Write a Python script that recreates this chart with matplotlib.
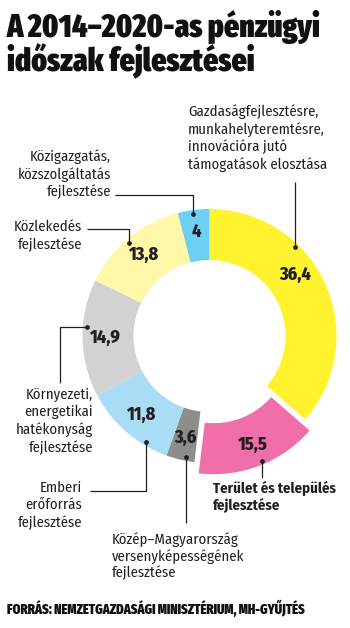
import matplotlib

matplotlib.use("Agg")

import numpy as np  # noqa: E402
import matplotlib.pyplot as plt  # noqa: E402

# értékek (%), az óramutató járásával egyező sorrendben, felülről indulva
values = [36.4, 15.5, 3.6, 11.8, 14.9, 13.8, 4]
value_labels = ["36,4", "15,5", "3,6", "11,8", "14,9", "13,8", "4"]
colors = ["#fff22e", "#f06fab", "#8d8d8d", "#a9ddf6", "#d2d2d2", "#fff8a8", "#6ecff4"]

W, H = 350, 628
CX, CY = 209.5, 336.0
R_OUT, RING = 127.0, 51.0
EXPLODE = [0, 12, 0, 0, 0, 0, 0]

_HEAVY = ["Fira Sans Extra Condensed", "DejaVu Sans"]
_COND = ["Fira Sans Condensed", "DejaVu Sans"]
_INK = "#231f20"

fig = plt.figure(figsize=(W / 100, H / 100), dpi=100)
ax = fig.add_axes([0, 0, 1, 1])

# képpont-koordináták, y lefelé nő -> a pie szögei tükröződnek
wedges, _ = ax.pie(
    values,
    colors=colors,
    startangle=-90,
    counterclock=True,
    radius=R_OUT,
    center=(CX, CY),
    explode=EXPLODE,
    wedgeprops=dict(width=RING, linewidth=0),
)
ax.set_xlim(0, W)
ax.set_ylim(H, 0)
ax.set_aspect("auto")
ax.axis("off")


def polar(i, angle, r):
    w = wedges[i]
    cx, cy = w.center
    a = np.deg2rad(angle)
    return cx + r * np.cos(a), cy + r * np.sin(a)


# értékfeliratok a cikkek közepén (a sárgánál kicsit lejjebb tolva)
for i, (w, txt) in enumerate(zip(wedges, value_labels)):
    mid = (w.theta1 + w.theta2) / 2
    if i == 0:
        mid -= 11
    x, y = polar(i, mid, 105)
    ax.text(x, y, txt, ha="center", va="center", fontsize=13,
            fontweight="heavy", family=_COND, color=_INK)


def leader(i, angle, path, first="v"):
    """Vezetővonal a cikk szélén lévő ponttól a felirathoz."""
    x0, y0 = polar(i, angle, 0.97 * R_OUT)
    xs, ys = [x0], [y0]
    for k, p in enumerate(path):
        vertical = (k % 2 == 0) == (first == "v")
        if vertical:
            xs.append(xs[-1])
            ys.append(p)
        else:
            xs.append(p)
            ys.append(ys[-1])
    ax.plot(xs, ys, color=_INK, linewidth=0.9, solid_capstyle="butt")
    ax.plot([x0], [y0], "o", color=_INK, markersize=2.4)


leader(0, -46, [182])
leader(6, -97.6, [195, 115])
leader(5, -131, [229, 87])
leader(4, 184.2, [60, 383], first="h")
leader(3, 121, [491, 90])
leader(2, 100.9, [523])
leader(1, 67, [478])

body = dict(fontsize=10.6, family=_COND, color=_INK, linespacing=1.25)
ax.text(188, 104, "Gazdaságfejlesztésre,\nmunkahelyteremtésre,\ninnovációra jutó\n"
        "támogatások elosztása", ha="left", va="top", **body)
ax.text(111, 149, "Közigazgatás,\nközszolgáltatás\nfejlesztése", ha="right", va="top", **body)
ax.text(82, 220, "Közlekedés\nfejlesztése", ha="right", va="top", **body)
ax.text(93, 388, "Környezeti,\nenergetikai\nhatékonyság\nfejlesztése", ha="right", va="top", **body)
ax.text(82, 481, "Emberi\nerőforrás\nfejlesztése", ha="right", va="top", **body)
ax.text(112, 532, "Közép–Magyarország\nversenyképességének\nfejlesztése", ha="left", va="top",
        **{**body, "linespacing": 1.15})
ax.text(213, 481, "Terület és település\nfejlesztése", ha="left", va="top",
        fontweight="bold", **{**body, "linespacing": 1.15})

ax.text(7, 10, "A 2014–2020-as pénzügyi\nidőszak fejlesztései", ha="left", va="top",
        fontsize=23, fontweight="black", family=_HEAVY, color="#111111", linespacing=0.98)
ax.text(7, 608, "FORRÁS: NEMZETGAZDASÁGI MINISZTÉRIUM, MH-GYŰJTÉS", ha="left", va="center",
        fontsize=9.8, fontweight="black", family=_HEAVY, color="#111111")

fig.savefig("out.png", dpi=100)
plt.close(fig)
